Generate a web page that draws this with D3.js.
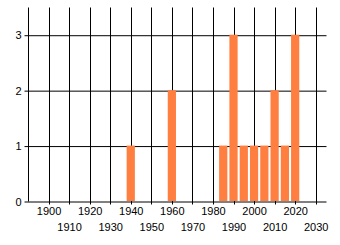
<!DOCTYPE html>
<html lang="en">
<head>
<meta charset="UTF-8">
<title>Counts by year</title>
<script src="https://d3js.org/d3.v7.min.js"></script>
<style>
    body { margin: 0; background: #fff; }
    text { font-family: "Liberation Sans", Arial, sans-serif; font-size: 11px; fill: #000; }
</style>
</head>
<body>
<script>
// data
const years = [1940, 1960, 1985, 1990, 1995, 2000, 2005, 2010, 2015, 2020];
const counts = [1, 2, 1, 3, 1, 1, 1, 2, 1, 3];
const xTicks = [1900, 1910, 1920, 1930, 1940, 1950, 1960, 1970, 1980, 1990, 2000, 2010, 2020, 2030];
const yTicks = [0, 1, 2, 3];

const W = 340, H = 245;
const margin = {top: 7, right: 14, bottom: 44, left: 28};
const w = W - margin.left - margin.right;
const h = H - margin.top - margin.bottom;

const svg = d3.select("body").append("svg")
    .attr("width", W).attr("height", H);
const g = svg.append("g")
    .attr("transform", `translate(${margin.left + 0.5},${margin.top + 0.5})`);

const x = d3.scaleLinear().domain([1890, 2035]).range([0, w]);
const y = d3.scaleLinear().domain([0, 3.5]).range([h, 0]);

// vertical grid lines (reach down past axis as ticks)
g.selectAll(".vgrid").data(xTicks).enter().append("line")
    .attr("x1", d => Math.round(x(d))).attr("x2", d => Math.round(x(d)))
    .attr("y1", 0).attr("y2", h + 3)
    .attr("stroke", "#000");

// y axis with horizontal grid
const yAxis = g.append("g")
    .call(d3.axisLeft(y).tickValues(yTicks).tickSizeInner(-w).tickSizeOuter(0).tickFormat(d3.format("d")));
yAxis.select(".domain").remove();
yAxis.selectAll(".tick line").attr("x1", -4).attr("stroke", "#000");
yAxis.selectAll(".tick text").attr("x", -7).attr("font-size", null).attr("font-family", null);

// left axis line
g.append("line").attr("x1", 0).attr("x2", 0).attr("y1", 0).attr("y2", h).attr("stroke", "#000");

// bars
const data = years.map((yr, i) => ({year: yr, value: counts[i]}));
g.selectAll(".bar").data(data).enter().append("rect")
    .attr("x", d => x(d.year - 2) - 0.5)
    .attr("width", d => x(d.year + 2) - x(d.year - 2))
    .attr("y", d => y(d.value) - 0.5)
    .attr("height", d => y(0) - y(d.value))
    .attr("fill", "#ff7f40");

// x tick labels, staggered on two rows
g.append("g").attr("transform", `translate(0,${h})`)
    .selectAll("text").data(xTicks).enter().append("text")
    .attr("x", d => x(d))
    .attr("y", (d, i) => i % 2 === 0 ? 13 : 29)
    .attr("text-anchor", "middle")
    .text(d => d);
</script>
</body>
</html>
